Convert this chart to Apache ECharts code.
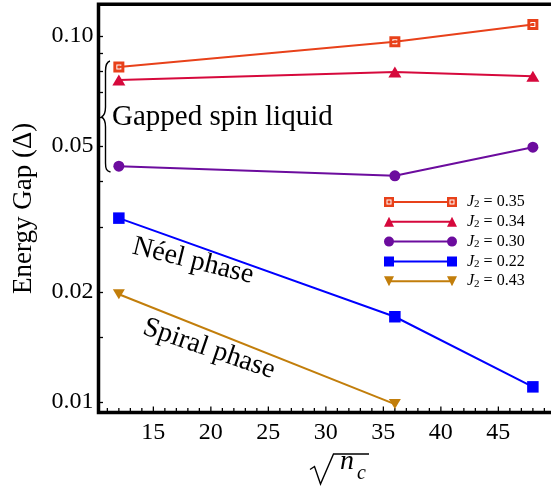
<!DOCTYPE html>
<html>
<head>
<meta charset="utf-8">
<title>Energy gap</title>
<script src="https://cdn.jsdelivr.net/npm/echarts@6/dist/echarts.min.js"></script>
<style>
    html, body { margin: 0; padding: 0; background: #fff; }
    #main { width: 551px; height: 489px; }
</style>
</head>
<body>
<div id="main"></div>
<script>
// 横轴: sqrt(n_c)
const sizes = [12, 36, 48];
const sizes043 = [12, 36];

// 各 J2 的能隙
const gap035 = [0.0823, 0.0965, 0.1076];
const gap034 = [0.0758, 0.0797, 0.0776];
const gap030 = [0.0441, 0.0415, 0.0497];
const gap022 = [0.0318, 0.0171, 0.0110];
const gap043 = [0.0197, 0.00987];

// 刻度
const xLabels = [15, 20, 25, 30, 35, 40, 45];
const yLabels = [0.01, 0.02, 0.05, 0.1];
const yTicks = [0.01, 0.015, 0.02, 0.03, 0.04, 0.05, 0.06, 0.07, 0.08, 0.09, 0.1];

const FONT = "'Liberation Serif', 'DejaVu Serif', serif";
const X_MIN = 10.23, X_MAX = 49.75;
const Y_MIN = 0.009361, Y_MAX = 0.1221;

const xMinor = [];
for (let v = 11; v <= 49; v++) {
    if (v % 5 !== 0) xMinor.push(v);
}

const colors = {
    j035: '#E8411A',
    j034: '#D6093C',
    j030: '#6C0C9E',
    j022: '#0000FF',
    j043: '#C27E0B'
};

// 带白色虚框的方块
const MARK035 = 'path://M0,0h11v11h-11Z M3,3v5h5v-5Z M4,4h3v3h-3Z';

// 图例图标: 两端带标记的线段
const ICON035 = 'path://M0,0h10v10h-10Z M2.5,2.5v5h5v-5Z M3.5,3.5h3v3h-3Z ' +
    'M63,0h10v10h-10Z M65.5,2.5v5h5v-5Z M66.5,3.5h3v3h-3Z M10,4h53v2h-53Z';
const ICON034 = 'path://M0,10L5,0L10,10Z M63,10L68,0L73,10Z M7,4h59v2h-59Z';
const ICON030 = 'path://M0,5a5,5 0 1,1 10,0a5,5 0 1,1 -10,0Z M63,5a5,5 0 1,1 10,0a5,5 0 1,1 -10,0Z M8,4h57v2h-57Z';
const ICON022 = 'path://M0,0h10v10h-10Z M63,0h10v10h-10Z M10,4h53v2h-53Z';
const ICON043 = 'path://M0,0L10,0L5,10Z M63,0L73,0L68,10Z M7,4h59v2h-59Z';

function pairs(xs, ys) {
    return xs.map((x, i) => [x, ys[i]]);
}

function lineSeries(name, xs, ys, color, symbol, size, rotate) {
    return {
        name: name,
        type: 'line',
        data: pairs(xs, ys),
        symbol: symbol,
        symbolSize: size,
        symbolRotate: rotate || 0,
        showAllSymbol: true,
        lineStyle: { color: color, width: 2 },
        itemStyle: { color: color, borderWidth: 0 },
        emphasis: { disabled: true },
        z: 5
    };
}

function curve(x1, y1, cx1, cy1, cx2, cy2, x2, y2) {
    return {
        type: 'bezierCurve',
        shape: { x1: x1, y1: y1, cpx1: cx1, cpy1: cy1, cpx2: cx2, cpy2: cy2, x2: x2, y2: y2 },
        style: { stroke: '#000', lineWidth: 1.4, fill: null }
    };
}

function segment(x1, y1, x2, y2, w) {
    return {
        type: 'line',
        silent: true,
        shape: { x1: x1, y1: y1, x2: x2, y2: y2 },
        style: { stroke: '#000', lineWidth: w || 1.4 }
    };
}

const baseGraphics = [
    // 大括号
    {
        type: 'group', silent: true,
        children: [
            curve(110, 61, 106.5, 62, 105.5, 65, 105.5, 71),
            segment(105.5, 71, 105.5, 107),
            curve(105.5, 107, 105.5, 112, 104.5, 115.5, 101.5, 117),
            curve(101.5, 117, 104.5, 118.5, 105.5, 122, 105.5, 127),
            segment(105.5, 127, 105.5, 163),
            curve(105.5, 163, 105.5, 169, 106.5, 171, 110.5, 172)
        ]
    },
    {
        type: 'text', silent: true, x: 112, y: 117,
        style: { text: 'Gapped spin liquid', font: "29px 'Liberation Serif'", fill: '#000', align: 'left', verticalAlign: 'middle' }
    },
    {
        type: 'text', silent: true, x: 193, y: 261, rotation: -14 * Math.PI / 180,
        style: { text: 'Néel phase', font: "28px 'Liberation Serif'", fill: '#000', align: 'center', verticalAlign: 'middle' }
    },
    {
        type: 'text', silent: true, x: 209, y: 349, rotation: -19 * Math.PI / 180,
        style: { text: 'Spiral phase', font: "28px 'Liberation Serif'", fill: '#000', align: 'center', verticalAlign: 'middle' }
    },
    // 横轴标题 sqrt(n_c)
    {
        type: 'polyline', silent: true,
        shape: { points: [[310, 469.5], [314.5, 466.5], [320.5, 484], [333.5, 454], [369, 454]] },
        style: { stroke: '#000', lineWidth: 1.4, fill: null }
    },
    {
        type: 'text', silent: true, x: 347, y: 462,
        style: { text: 'n', font: "italic 28px 'Liberation Serif'", fill: '#000', align: 'center', verticalAlign: 'middle' }
    },
    {
        type: 'text', silent: true, x: 361.5, y: 474,
        style: { text: 'c', font: "italic 20px 'Liberation Serif'", fill: '#000', align: 'center', verticalAlign: 'middle' }
    }
];

const myChart = echarts.init(document.getElementById('main'), null, { renderer: 'canvas' });

const option = {
    animation: false,
    backgroundColor: '#fff',
    grid: {
        left: 98.5, right: -2, top: 4.3, bottom: 76.5, containLabel: false, outerBoundsMode: 'none',
        show: true, borderColor: '#000', borderWidth: 3.5, backgroundColor: 'transparent'
    },
    xAxis: {
        type: 'value', min: X_MIN, max: X_MAX, position: 'bottom',
        axisLine: { show: false, onZero: false },
        axisTick: { show: false },
        axisLabel: { customValues: xLabels, margin: 8, color: '#000', fontFamily: FONT, fontSize: 24 },
        splitLine: { show: false }
    },
    yAxis: {
        type: 'log', logBase: 10, min: Y_MIN, max: Y_MAX,
        name: 'Energy Gap (Δ)', nameLocation: 'middle', nameGap: 61,
        nameTextStyle: { color: '#000', fontFamily: FONT, fontSize: 27 },
        axisLine: { show: false, onZero: false },
        axisTick: { show: true, inside: true, length: 4.5, lineStyle: { color: '#000', width: 1.3 }, customValues: yTicks },
        axisLabel: {
            customValues: yLabels, margin: 5, color: '#000', fontFamily: FONT, fontSize: 24,
            formatter: v => Number(v).toFixed(2)
        },
        splitLine: { show: false }
    },
    legend: {
        orient: 'vertical', left: 384, top: 194, padding: 0,
        itemWidth: 73, itemHeight: 10, itemGap: 3.8,
        selectedMode: false,
        itemStyle: { borderWidth: 0 },
        data: [
            { name: 'J2 = 0.35', icon: ICON035 },
            { name: 'J2 = 0.34', icon: ICON034 },
            { name: 'J2 = 0.30', icon: ICON030 },
            { name: 'J2 = 0.22', icon: ICON022 },
            { name: 'J2 = 0.43', icon: ICON043 }
        ],
        formatter: name => '{j|J}{s|2}{t| = ' + name.split('= ')[1] + '}',
        textStyle: {
            color: '#000', fontFamily: FONT, fontSize: 16,
            rich: {
                j: { fontFamily: FONT, fontSize: 16, fontStyle: 'italic', lineHeight: 16, padding: [0, 0, 0, 5] },
                s: { fontFamily: FONT, fontSize: 11, lineHeight: 8, verticalAlign: 'bottom' },
                t: { fontFamily: FONT, fontSize: 16, lineHeight: 16 }
            }
        }
    },
    series: [
        lineSeries('J2 = 0.35', sizes, gap035, colors.j035, MARK035, 11),
        lineSeries('J2 = 0.34', sizes, gap034, colors.j034, 'triangle', [13, 11]),
        lineSeries('J2 = 0.30', sizes, gap030, colors.j030, 'circle', 11),
        lineSeries('J2 = 0.22', sizes, gap022, colors.j022, 'rect', 11.5),
        lineSeries('J2 = 0.43', sizes043, gap043, colors.j043, 'triangle', [12, 10], 180)
    ],
    graphic: baseGraphics
};

myChart.setOption(option);

// 底边向上的刻度, 位置由坐标轴换算
const yBottom = myChart.convertToPixel({ yAxisIndex: 0 }, Y_MIN);
const tickMarks = [];
xLabels.forEach(v => {
    const px = myChart.convertToPixel({ xAxisIndex: 0 }, v);
    tickMarks.push(segment(px, yBottom, px, yBottom - 6, 1.3));
});
xMinor.forEach(v => {
    const px = myChart.convertToPixel({ xAxisIndex: 0 }, v);
    tickMarks.push(segment(px, yBottom, px, yBottom - 4.5, 1.3));
});
myChart.setOption({ graphic: baseGraphics.concat(tickMarks) });
</script>
</body>
</html>
